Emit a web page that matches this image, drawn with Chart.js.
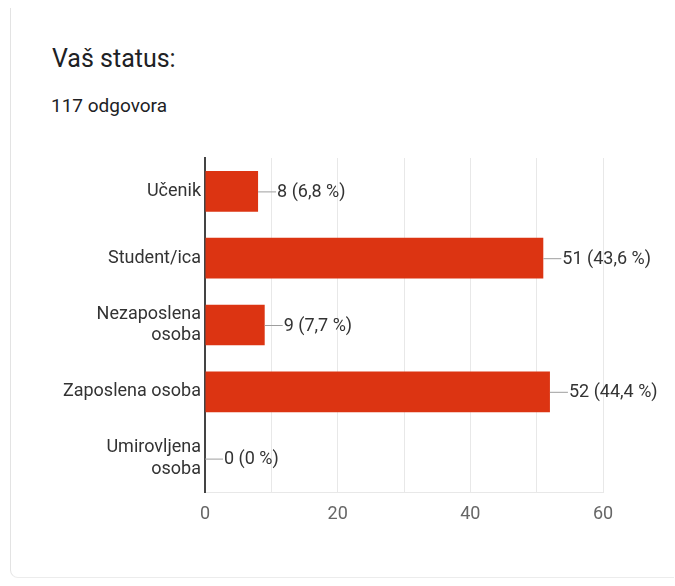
<!DOCTYPE html>
<html>
<head>
<meta charset="utf-8">
<script src="https://cdn.jsdelivr.net/npm/chart.js@4/dist/chart.umd.min.js"></script>
<style>
  body { margin: 0; background: #fff; font-family: Roboto, sans-serif; }
  .card { position: absolute; left: 10px; top: 8px; width: 664px; height: 570px;
          border-left: 1px solid #e3e3e3; border-bottom: 1px solid #ececec;
          border-radius: 0 0 0 8px; box-sizing: border-box; }
  .title { position: absolute; left: 52px; top: 46px; font-size: 25px; line-height: 25px; color: #202124; }
  .subtitle { position: absolute; left: 51px; top: 96px; font-size: 19px; line-height: 19px; color: #202124; }
  #chart { position: absolute; left: 0; top: 0; }
</style>
</head>
<body>
<div class="card"></div>
<div class="title">Vaš status:</div>
<div class="subtitle">117 odgovora</div>
<canvas id="chart" width="675" height="586"></canvas>
<script>
const categories = ['Učenik', 'Student/ica', ['Nezaposlena', 'osoba'], 'Zaposlena osoba', ['Umirovljena', 'osoba']];
const counts = [8, 51, 9, 52, 0];
const percents = ['6,8', '43,6', '7,7', '44,4', '0'];
const xTicks = [0, 20, 40, 60];

const barColor = '#dc3412';
const fontFamily = 'Roboto, sans-serif';

// leader line + "n (p %)" at the end of each bar
const valueLabels = {
  id: 'valueLabels',
  afterDatasetsDraw(chart) {
    const ctx = chart.ctx;
    const meta = chart.getDatasetMeta(0);
    ctx.save();
    ctx.font = '18px ' + fontFamily;
    ctx.textBaseline = 'middle';
    ctx.textAlign = 'left';
    meta.data.forEach((bar, i) => {
      const x = bar.x;
      const y = bar.y;
      ctx.strokeStyle = '#9e9e9e';
      ctx.lineWidth = 1;
      ctx.beginPath();
      ctx.moveTo(x, y + 0.5);
      ctx.lineTo(x + 18, y + 0.5);
      ctx.stroke();
      ctx.fillStyle = '#333';
      ctx.fillText(counts[i] + ' (' + percents[i] + ' %)', x + 19, y + 1);
    });
    ctx.restore();
  }
};

new Chart(document.getElementById('chart'), {
  type: 'bar',
  data: {
    labels: categories,
    datasets: [{
      data: counts,
      backgroundColor: barColor,
      borderWidth: 0,
      categoryPercentage: 1,
      barPercentage: 0.61
    }]
  },
  options: {
    indexAxis: 'y',
    responsive: false,
    animation: false,
    devicePixelRatio: 1,
    layout: { padding: { left: 0, right: 72, top: 158, bottom: 0 } },
    plugins: {
      legend: { display: false },
      tooltip: { enabled: false }
    },
    scales: {
      x: {
        min: 0,
        max: 60,
        afterFit: (scale) => { scale.height = 94; },
        grid: { color: '#e8e8e8', drawTicks: false },
        border: { color: '#e8e8e8' },
        ticks: {
          stepSize: 10,
          autoSkip: false,
          maxRotation: 0,
          padding: 12,
          color: '#666',
          font: { family: fontFamily, size: 18 },
          callback: (v) => (xTicks.includes(v) ? v : '')
        }
      },
      y: {
        afterFit: (scale) => { scale.width = 205; },
        grid: { display: false, drawTicks: false },
        border: { color: '#444', width: 2 },
        ticks: {
          padding: 4,
          color: '#333',
          font: { family: fontFamily, size: 18, lineHeight: 1.2 }
        }
      }
    }
  },
  plugins: [valueLabels]
});
</script>
</body>
</html>
